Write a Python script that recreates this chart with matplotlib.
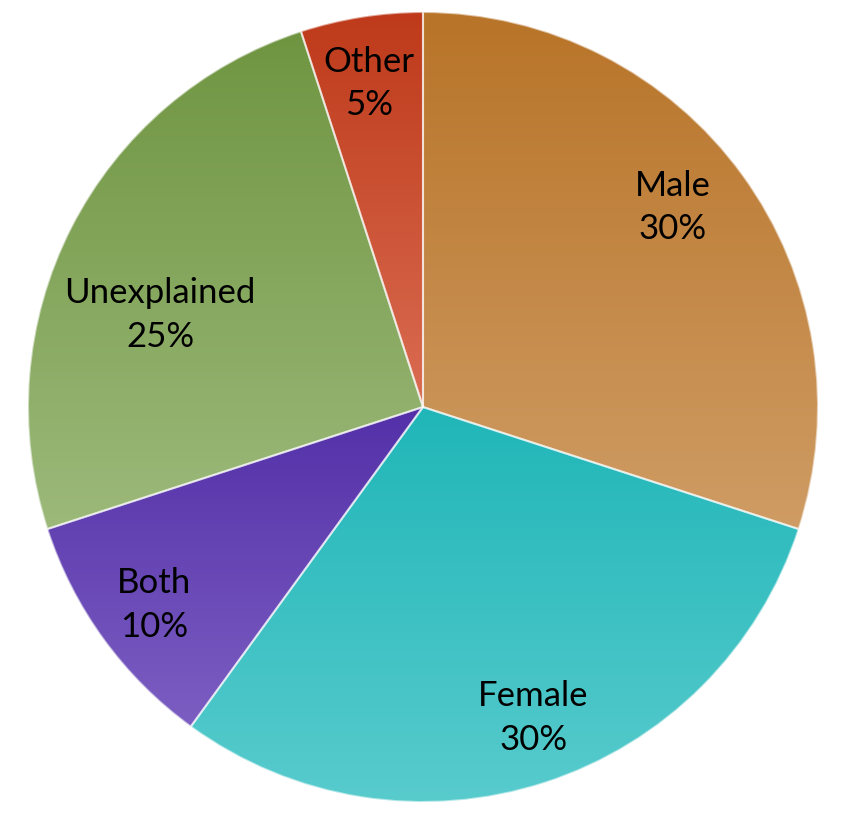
import numpy as np
import matplotlib
matplotlib.use("Agg")
import matplotlib.pyplot as plt
from matplotlib.colors import LinearSegmentedColormap

categories = ["Male", "Female", "Both", "Unexplained", "Other"]
values = [30, 30, 10, 25, 5]
top_colors = ["#B87428", "#20B6B8", "#5330A8", "#6F9541", "#BE3A1A"]
bottom_colors = ["#CF9C64", "#58CBCD", "#7C5EC2", "#9CB97A", "#DA6C52"]
# label placement (angle in degrees, fraction of radius)
label_pos = [(38.6, 0.81), (-70.5, 0.835), (-143.6, 0.845), (160.7, 0.705), (99.5, 0.83)]

W, H = 858, 819
fig = plt.figure(figsize=(W / 100, H / 100), dpi=100)
ax = fig.add_axes([0, 0, 1, 1])
cx, cy, R = 423, H - 407, 395

wedges, _ = ax.pie(values, startangle=90, counterclock=False, center=(cx, cy),
                   radius=R, wedgeprops=dict(linewidth=1.5, edgecolor=(1, 1, 1, 0.55)))
ax.set_xlim(0, W)
ax.set_ylim(0, H)
ax.set_aspect("equal")
ax.axis("off")

for w, c0, c1 in zip(wedges, top_colors, bottom_colors):
    w.set_facecolor("none")
    bb = w.get_path().get_extents(w.get_patch_transform())
    cmap = LinearSegmentedColormap.from_list("g", [c1, c0])
    grad = np.linspace(0, 1, 256).reshape(-1, 1)
    im = ax.imshow(grad, cmap=cmap, origin="lower", aspect="auto",
                   extent=(bb.x0, bb.x1, bb.y0, bb.y1), zorder=1, interpolation="bilinear")
    im.set_clip_path(w)
    w.set_zorder(2)

ax.set_xlim(0, W)
ax.set_ylim(0, H)

for name, v, (ang, frac) in zip(categories, values, label_pos):
    a = np.deg2rad(ang)
    ax.text(cx + frac * R * np.cos(a), cy + frac * R * np.sin(a), f"{name}\n{v}%",
            ha="center", va="center", fontsize=25, family="Lato", color="black",
            linespacing=1.45, zorder=5)

fig.savefig("out.png", dpi=100)
